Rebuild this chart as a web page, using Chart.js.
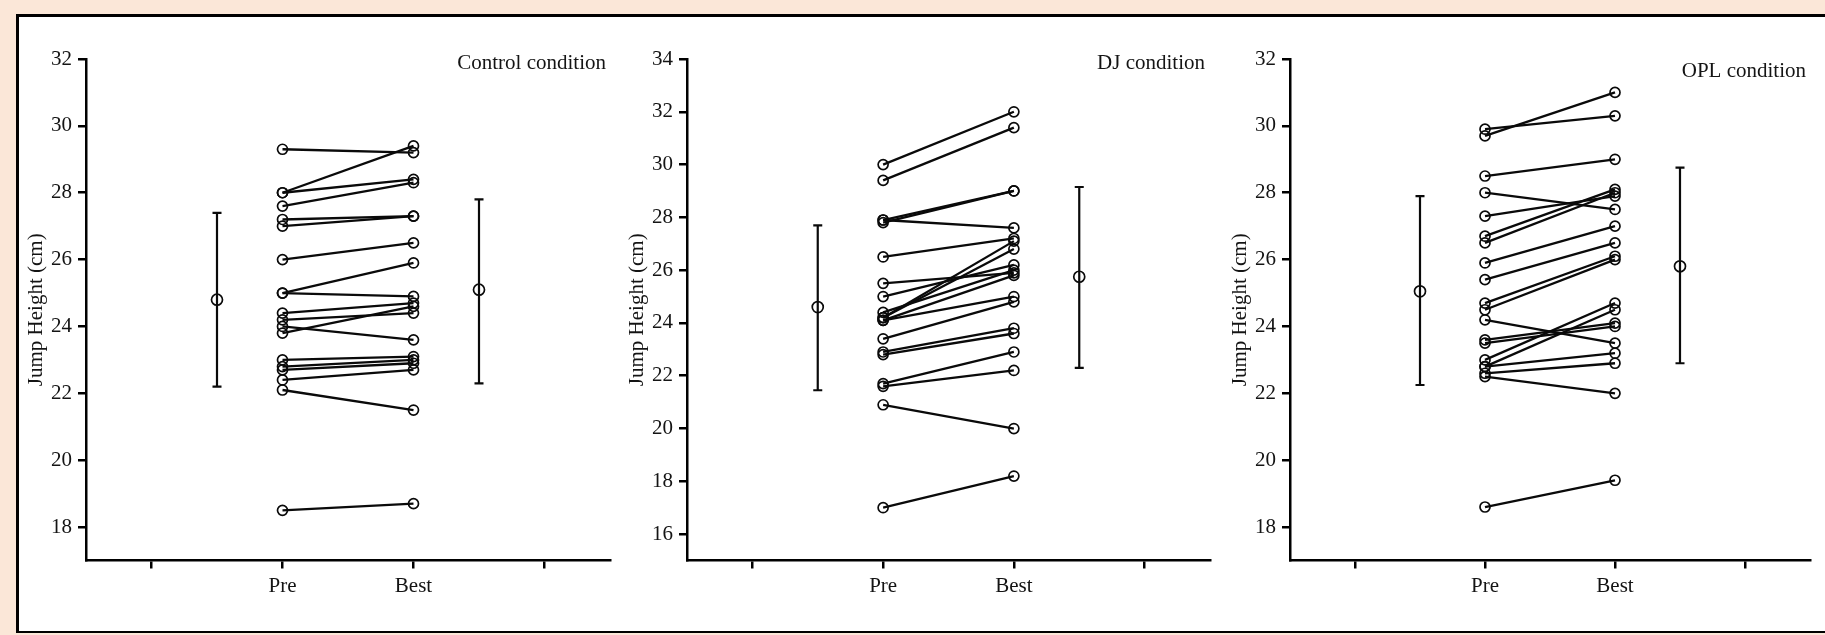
<!DOCTYPE html>
<html>
<head>
<meta charset="utf-8">
<script src="https://cdn.jsdelivr.net/npm/chart.js@4"></script>
<style>
html,body{margin:0;padding:0;width:1825px;height:635px;overflow:hidden;background:#fbe7d8;}
#box{position:absolute;left:16px;top:14px;width:1830px;height:619px;box-sizing:border-box;border:3px solid #000;border-bottom-width:2px;background:#fff;}
canvas{position:absolute;top:0;}
</style>
</head>
<body>
<div id="box"></div>
<canvas id="c1" width="620" height="635" style="left:6px;width:620px;height:635px;"></canvas>
<canvas id="c2" width="620" height="635" style="left:607px;width:620px;height:635px;"></canvas>
<canvas id="c3" width="615" height="635" style="left:1210px;width:615px;height:635px;"></canvas>
<script>
// ---- categories / axis ticks ----
const categories = ['', 'Pre', 'Best', ''];
const catPos = [0, 1, 2, 3];
const summaryPos = [0.5, 2.5];
const yTitle = 'Jump Height (cm)';

// ---- Control condition ----
const ctrlTitle = 'Control condition';
const ctrlPre  = [29.3, 28.0, 28.0, 27.6, 27.2, 27.0, 26.0, 25.0, 25.0, 24.4, 24.2, 24.0, 23.8, 23.0, 22.8, 22.7, 22.4, 22.1, 18.5];
const ctrlBest = [29.2, 29.4, 28.4, 28.3, 27.3, 27.3, 26.5, 25.9, 24.9, 24.7, 24.4, 23.6, 24.6, 23.1, 23.0, 22.9, 22.7, 21.5, 18.7];
const ctrlMean = [24.8, 25.1];
const ctrlLow  = [22.2, 22.3];
const ctrlHigh = [27.4, 27.8];
const ctrlRange = [17, 32];
const ctrlTicks = [18, 20, 22, 24, 26, 28, 30, 32];

// ---- DJ condition ----
const djTitle = 'DJ condition';
const djPre  = [30.0, 29.4, 27.9, 27.8, 27.9, 26.5, 25.5, 25.0, 24.4, 24.2, 24.2, 24.1, 24.1, 23.4, 22.9, 22.8, 21.7, 21.6, 20.9, 17.0];
const djBest = [32.0, 31.4, 29.0, 29.0, 27.6, 27.2, 25.9, 26.2, 26.0, 27.1, 26.8, 25.8, 25.0, 24.8, 23.8, 23.6, 22.9, 22.2, 20.0, 18.2];
const djMean = [24.6, 25.75];
const djLow  = [21.45, 22.3];
const djHigh = [27.7, 29.15];
const djRange = [15, 34];
const djTicks = [16, 18, 20, 22, 24, 26, 28, 30, 32, 34];

// ---- OPL condition ----
const oplTitle = 'OPL condition';
const oplPre  = [29.9, 29.7, 28.5, 28.0, 27.3, 26.7, 26.5, 25.9, 25.4, 24.7, 24.5, 24.2, 23.6, 23.5, 23.0, 22.8, 22.8, 22.6, 22.5, 18.6];
const oplBest = [30.3, 31.0, 29.0, 27.5, 27.9, 28.1, 28.0, 27.0, 26.5, 26.1, 26.0, 23.5, 24.1, 24.0, 24.7, 24.5, 23.2, 22.9, 22.0, 19.4];
const oplMean = [25.05, 25.8];
const oplLow  = [22.25, 22.9];
const oplHigh = [27.9, 28.75];
const oplRange = [17, 32];
const oplTicks = [18, 20, 22, 24, 26, 28, 30, 32];

// ---- styling ----
const INK = '#0a0a0a';
const TEXT = '#141414';
const FONT = {family: '"Liberation Serif", "Times New Roman", serif', size: 21};
Chart.defaults.font.family = FONT.family;
Chart.defaults.font.size = FONT.size;
Chart.defaults.color = TEXT;

const condTitle = {
  id: 'condTitle',
  afterDraw(chart, args, opts) {
    const {ctx, chartArea} = chart;
    ctx.save();
    ctx.font = FONT.size + 'px ' + FONT.family;
    ctx.fillStyle = TEXT;
    ctx.textAlign = 'right';
    ctx.textBaseline = 'middle';
    ctx.fillText(opts.text, chartArea.right - opts.dx, chartArea.top + opts.dy);
    ctx.restore();
  }
};

function makePanel(id, title, pre, best, mean, low, high, range, yTicks, padRight, titleDx, titleDy) {
  const datasets = [];
  pre.forEach((p, i) => {
    datasets.push({
      data: [{x: catPos[1], y: p}, {x: catPos[2], y: best[i]}],
      showLine: true, borderColor: INK, borderWidth: 2.3,
      pointRadius: 5, pointBorderWidth: 1.7,
      pointBorderColor: INK, pointBackgroundColor: 'rgba(0,0,0,0)'
    });
  });
  summaryPos.forEach((x, j) => {
    datasets.push({
      data: [{x: x, y: low[j]}, {x: x, y: high[j]}],
      showLine: true, borderColor: INK, borderWidth: 2.2,
      pointStyle: 'line', pointRadius: 4.5, pointBorderWidth: 2.2,
      pointBorderColor: INK
    });
  });
  datasets.push({
    data: summaryPos.map((x, j) => ({x: x, y: mean[j]})),
    showLine: false, pointRadius: 5.5, pointBorderWidth: 1.7,
    pointBorderColor: INK, pointBackgroundColor: '#fff'
  });

  const gridOpts = {display: true, drawOnChartArea: false, drawTicks: true, tickLength: 8, color: '#000', lineWidth: 2.5};
  const borderOpts = {display: true, color: '#000', width: 2.5};

  new Chart(document.getElementById(id), {
    type: 'scatter',
    data: {datasets},
    plugins: [condTitle],
    options: {
      responsive: false,
      animation: false,
      layout: {padding: {top: 59, bottom: 14.5, left: 0, right: padRight}},
      plugins: {
        legend: {display: false},
        tooltip: {enabled: false},
        condTitle: {text: title, dx: titleDx, dy: titleDy}
      },
      scales: {
        x: {
          type: 'linear', min: -0.5, max: 3.5,
          afterBuildTicks: s => { s.ticks = catPos.map(v => ({value: v})); },
          afterFit: s => { s.height = 60; },
          ticks: {callback: (v, i) => categories[i], padding: 5, color: TEXT, maxRotation: 0, autoSkip: false},
          grid: gridOpts, border: borderOpts
        },
        y: {
          type: 'linear', min: range[0], max: range[1],
          afterBuildTicks: s => { s.ticks = yTicks.map(v => ({value: v})); },
          afterFit: s => { s.width = 80; },
          ticks: {padding: 6, color: TEXT},
          title: {display: true, text: yTitle, color: TEXT, padding: {top: 18, bottom: 0}},
          grid: gridOpts, border: borderOpts
        }
      }
    }
  });
}

makePanel('c1', ctrlTitle, ctrlPre, ctrlBest, ctrlMean, ctrlLow, ctrlHigh, ctrlRange, ctrlTicks, 16, 4, 4);
makePanel('c2', djTitle, djPre, djBest, djMean, djLow, djHigh, djRange, djTicks, 17, 5, 4);
makePanel('c3', oplTitle, oplPre, oplBest, oplMean, oplLow, oplHigh, oplRange, oplTicks, 15, 4, 12);
</script>
</body>
</html>
